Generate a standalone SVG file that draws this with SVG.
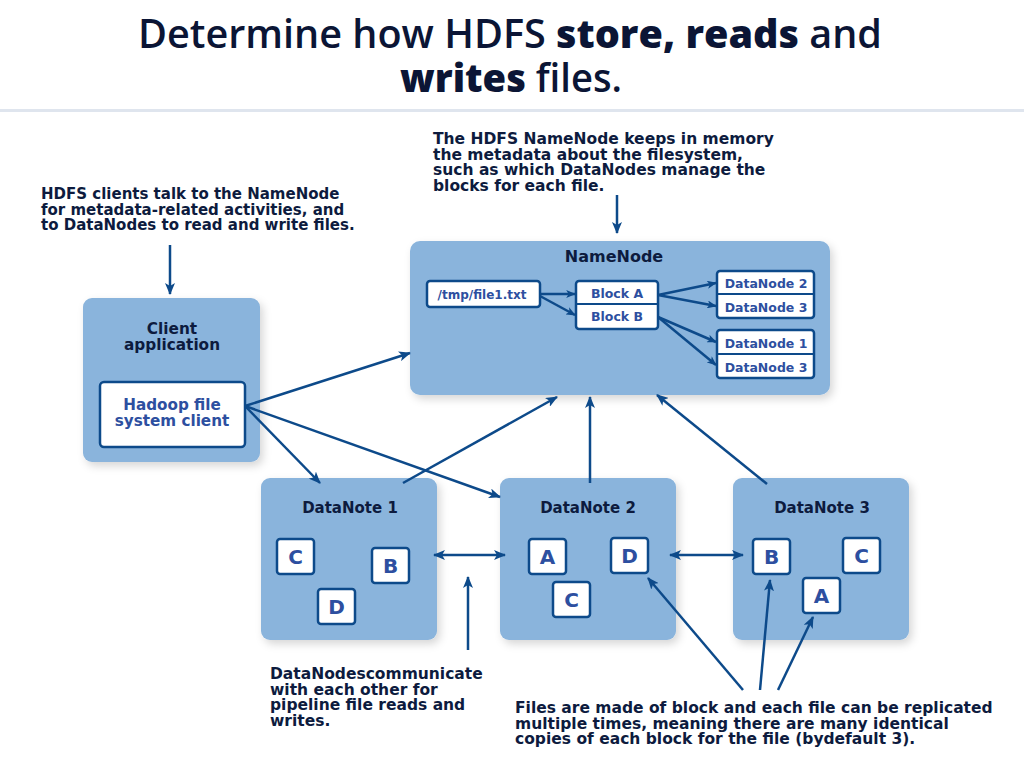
<svg xmlns="http://www.w3.org/2000/svg" width="1024" height="775" viewBox="0 0 1024 775">
<defs>
<filter id="sh" x="-10%" y="-10%" width="125%" height="130%"><feDropShadow dx="3" dy="4" stdDeviation="4" flood-color="#000" flood-opacity="0.16"/></filter>
<marker id="ah" viewBox="0 0 12 10" refX="11" refY="5" markerWidth="12" markerHeight="10" markerUnits="userSpaceOnUse" orient="auto-start-reverse"><path d="M0,0 L12,5 L0,10 L3,5 z" fill="#0d4a8a"/></marker>
<marker id="as" viewBox="0 0 12 10" refX="11" refY="5" markerWidth="10" markerHeight="8" markerUnits="userSpaceOnUse" orient="auto"><path d="M0,0 L12,5 L0,10 L3,5 z" fill="#0d4a8a"/></marker>
</defs>
<style>
text{font-family:"DejaVu Sans","Open Sans",sans-serif;font-weight:700}
.title{font-family:"Open Sans","DejaVu Sans",sans-serif;font-size:39px;font-weight:600;fill:#0b1535}
.b{font-weight:800}
.note{font-size:15.5px;fill:#0d1b3e}
.box{fill:#8ab4dc}
.hd{font-size:15px;fill:#0d1b3e;text-anchor:middle}
.wb{fill:#fff;stroke:#0d4a8a;stroke-width:2.5}
.in{font-size:12.5px;fill:#2d4fa0;text-anchor:middle}
.lt{font-size:20px;fill:#2d4fa0;text-anchor:middle}
.c{stroke:#0d4a8a;stroke-width:2.5;fill:none}
</style>
<rect width="1024" height="775" fill="#fff"/>
<g id="title">
<text class="title" x="138" y="48" textLength="744" lengthAdjust="spacingAndGlyphs">Determine how HDFS <tspan class="b">store, reads</tspan> and</text>
<text class="title" x="400" y="92" textLength="222" lengthAdjust="spacingAndGlyphs"><tspan class="b">writes</tspan> files.</text>
<rect x="0" y="109" width="1024" height="3" fill="#dfe5ee"/>
</g>
<g id="note-namenode">
<text class="note" x="433" y="144">The HDFS NameNode keeps in memory</text>
<text class="note" x="433" y="159.5">the metadata about the filesystem,</text>
<text class="note" x="433" y="175">such as which DataNodes manage the</text>
<text class="note" x="433" y="190.5">blocks for each file.</text>
</g>
<g id="note-client">
<text class="note" x="41" y="199" style="font-size:15px">HDFS clients talk to the NameNode</text>
<text class="note" x="41" y="214.5" style="font-size:15px">for metadata-related activities, and</text>
<text class="note" x="41" y="230" style="font-size:15px">to DataNodes to read and write files.</text>
</g>
<g id="note-pipeline">
<text class="note" x="270" y="679">DataNodescommunicate</text>
<text class="note" x="270" y="694.5">with each other for</text>
<text class="note" x="270" y="710">pipeline file reads and</text>
<text class="note" x="270" y="725.5">writes.</text>
</g>
<g id="note-blocks">
<text class="note" x="515" y="713">Files are made of block and each file can be replicated</text>
<text class="note" x="515" y="728.5">multiple times, meaning there are many identical</text>
<text class="note" x="515" y="744">copies of each block for the file (bydefault 3).</text>
</g>
<g id="client">
<rect class="box" x="83" y="298" width="177" height="164" rx="9" filter="url(#sh)"/>
<text class="hd" x="172" y="334" style="font-size:15.3px">Client</text>
<text class="hd" x="172" y="350" style="font-size:15.3px">application</text>
<rect class="wb" x="100" y="382" width="145" height="65" rx="4"/>
<text class="in" x="172" y="410" style="font-size:15.2px">Hadoop file</text>
<text class="in" x="172" y="426" style="font-size:15.2px">system client</text>
</g>
<g id="namenode">
<rect class="box" x="410" y="241" width="420" height="154" rx="10" filter="url(#sh)"/>
<text class="hd" x="614" y="262" style="font-size:16px">NameNode</text>
<rect class="wb" x="427" y="281" width="113" height="26" rx="3"/>
<text class="in" x="482" y="299" style="font-size:12px">/tmp/file1.txt</text>
<rect class="wb" x="576" y="281" width="82" height="48" rx="3"/>
<line x1="576" y1="304" x2="658" y2="304" stroke="#0d4a8a" stroke-width="2"/>
<text class="in" x="617" y="298">Block A</text>
<text class="in" x="617" y="321">Block B</text>
<rect class="wb" x="717" y="271" width="97" height="47" rx="3"/>
<line x1="717" y1="294" x2="814" y2="294" stroke="#0d4a8a" stroke-width="2"/>
<text class="in" x="766" y="288">DataNode 2</text>
<text class="in" x="766" y="312">DataNode 3</text>
<rect class="wb" x="717" y="330" width="97" height="48" rx="3"/>
<line x1="717" y1="354" x2="814" y2="354" stroke="#0d4a8a" stroke-width="2"/>
<text class="in" x="766" y="348">DataNode 1</text>
<text class="in" x="766" y="372">DataNode 3</text>
</g>
<g id="datanote1">
<rect class="box" x="261" y="478" width="176" height="162" rx="9" filter="url(#sh)"/>
<text class="hd" x="350" y="513">DataNote 1</text>
<rect class="wb" x="277" y="539" width="37" height="35" rx="3"/><text class="lt" x="295.5" y="564">C</text>
<rect class="wb" x="372" y="548" width="37" height="35" rx="3"/><text class="lt" x="390.5" y="573">B</text>
<rect class="wb" x="318" y="589" width="37" height="35" rx="3"/><text class="lt" x="336.5" y="614">D</text>
</g>
<g id="datanote2">
<rect class="box" x="500" y="478" width="176" height="162" rx="9" filter="url(#sh)"/>
<text class="hd" x="588" y="513">DataNote 2</text>
<rect class="wb" x="529" y="539" width="37" height="35" rx="3"/><text class="lt" x="547.5" y="564">A</text>
<rect class="wb" x="611" y="538" width="37" height="35" rx="3"/><text class="lt" x="629.5" y="563">D</text>
<rect class="wb" x="553" y="582" width="37" height="35" rx="3"/><text class="lt" x="571.5" y="607">C</text>
</g>
<g id="datanote3">
<rect class="box" x="733" y="478" width="176" height="162" rx="9" filter="url(#sh)"/>
<text class="hd" x="822" y="513">DataNote 3</text>
<rect class="wb" x="753" y="539" width="37" height="35" rx="3"/><text class="lt" x="771.5" y="564">B</text>
<rect class="wb" x="843" y="538" width="37" height="35" rx="3"/><text class="lt" x="861.5" y="563">C</text>
<rect class="wb" x="803" y="578" width="37" height="35" rx="3"/><text class="lt" x="821.5" y="603">A</text>
</g>
<g id="connectors">
<line class="c" x1="617" y1="195" x2="617" y2="233" marker-end="url(#ah)"/>
<line class="c" x1="170" y1="245" x2="170" y2="294" marker-end="url(#ah)"/>
<line class="c" x1="540" y1="294" x2="575" y2="294" stroke-width="2" marker-end="url(#as)"/>
<line class="c" x1="540" y1="296" x2="575" y2="315" stroke-width="2" marker-end="url(#as)"/>
<line class="c" x1="658" y1="295" x2="716" y2="283" stroke-width="2" marker-end="url(#as)"/>
<line class="c" x1="658" y1="295" x2="716" y2="306" stroke-width="2" marker-end="url(#as)"/>
<line class="c" x1="658" y1="317" x2="716" y2="342" stroke-width="2" marker-end="url(#as)"/>
<line class="c" x1="658" y1="317" x2="716" y2="365" stroke-width="2" marker-end="url(#as)"/>
<line class="c" x1="245" y1="406" x2="410" y2="353" marker-end="url(#ah)"/>
<line class="c" x1="245" y1="406" x2="320" y2="483" marker-end="url(#ah)"/>
<line class="c" x1="245" y1="406" x2="500" y2="497" marker-end="url(#ah)"/>
<line class="c" x1="403" y1="483" x2="557" y2="397" marker-end="url(#ah)"/>
<line class="c" x1="590" y1="483" x2="590" y2="397" marker-end="url(#ah)"/>
<line class="c" x1="767" y1="484" x2="657" y2="395" marker-end="url(#ah)"/>
<line class="c" x1="434" y1="555" x2="505" y2="555" marker-start="url(#ah)" marker-end="url(#ah)"/>
<line class="c" x1="670" y1="555" x2="743" y2="555" marker-start="url(#ah)" marker-end="url(#ah)"/>
<line class="c" x1="468" y1="650" x2="468" y2="577" marker-end="url(#ah)"/>
<line class="c" x1="743" y1="690" x2="648" y2="578" marker-end="url(#ah)"/>
<line class="c" x1="760" y1="690" x2="770" y2="580" marker-end="url(#ah)"/>
<line class="c" x1="778" y1="690" x2="813" y2="617" marker-end="url(#ah)"/>
</g>
</svg>
